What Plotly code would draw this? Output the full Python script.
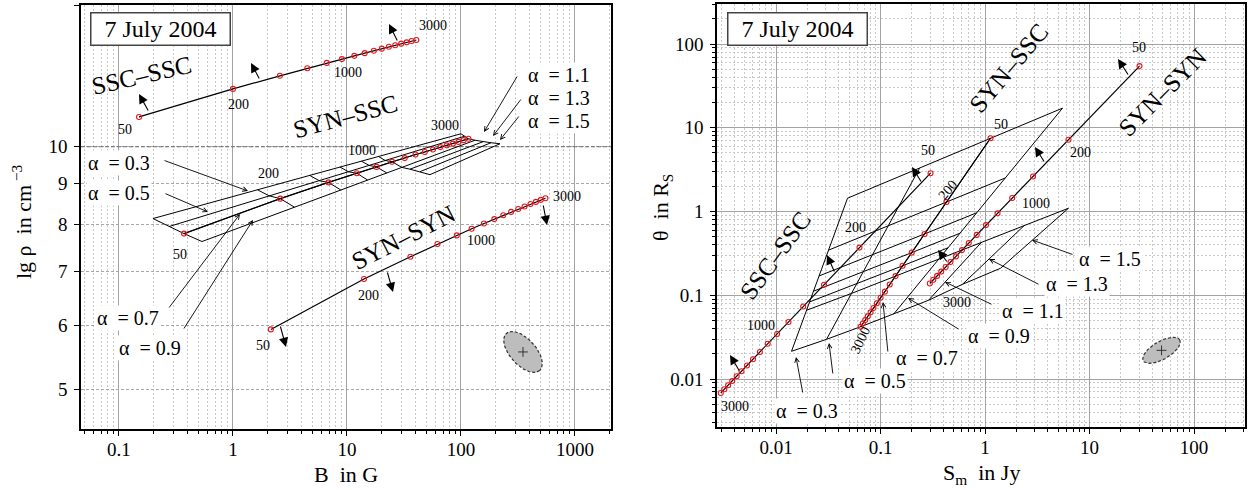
import numpy as np
import plotly.graph_objects as go

W, H = 1249, 490
FONT = "Liberation Serif"

# ---------------- data ----------------
P_VALUES = [50, 200, 400, 600, 800, 1000, 1200, 1400, 1600, 1800, 2000, 2200, 2400, 2600, 2800, 3000]
ALPHAS = [0.3, 0.5, 0.7, 0.9, 1.1, 1.3, 1.5]
GRID_P = [50, 200, 400, 600, 800, 1000, 3000]   # parameter values of the SYN-SSC cross lines

# left panel: B [G] vs lg rho [cm^-3]
L_SSC_B = [0.150, 1.00, 2.58, 4.49, 6.65, 9.03, 11.6, 14.3, 17.2, 20.2, 23.3, 26.5, 29.9, 33.4, 36.9, 40.6]
L_SSC_RHO = [10.89, 11.80, 12.25, 12.52, 12.71, 12.85, 12.97, 13.07, 13.16, 13.24, 13.31, 13.37, 13.43, 13.48, 13.53, 13.57]
L_SYN_B = [2.15, 14.1, 36.0, 62.2, 91.9, 124, 159, 196, 235, 275, 318, 361, 407, 454, 502, 551]
L_SYN_RHO = [5.93, 6.85, 7.30, 7.57, 7.76, 7.91, 8.03, 8.13, 8.22, 8.30, 8.37, 8.43, 8.49, 8.54, 8.59, 8.63]
L_SYNSSC_B = [0.372, 2.60, 6.88, 12.2, 18.2, 24.9, 32.1, 39.9, 48.1, 56.8, 65.9, 75.2, 85.0, 95.2, 105.6, 116.3]
L_SYNSSC_RHO = [7.80, 8.62, 9.03, 9.27, 9.44, 9.58, 9.68, 9.78, 9.85, 9.92, 9.99, 10.04, 10.09, 10.14, 10.19, 10.23]

# left SYN-SSC grid nodes, one row per alpha, columns follow GRID_P
L_GRID_B = [
    [0.1987, 1.637, 4.727, 8.683, 13.40, 18.89, 100.0],
    [0.2746, 2.077, 5.704, 10.31, 15.65, 21.68, 107.3],
    [0.372, 2.60, 6.88, 12.2, 18.2, 24.9, 116.3],
    [0.5348, 3.463, 8.807, 15.19, 22.35, 30.25, 132.7],
    [None, None, None, None, None, 35.69, 156.0],
    [None, None, None, None, None, 43.69, 183.3],
    [None, None, None, None, None, 53.47, 219.9],
]
L_GRID_RHO = [
    [8.143, 8.843, 9.211, 9.435, 9.595, 9.724, 10.378],
    [7.959, 8.690, 9.075, 9.309, 9.480, 9.614, 10.304],
    [7.80, 8.62, 9.03, 9.27, 9.44, 9.58, 10.23],
    [7.625, 8.412, 8.838, 9.090, 9.277, 9.427, 10.187],
    [None, None, None, None, None, 9.378, 10.144],
    [None, None, None, None, None, 9.311, 10.115],
    [None, None, None, None, None, 9.232, 10.086],
]

# right panel: S_m [Jy] vs theta [R_S]
R_SSC_S = [0.301, 0.0629, 0.0288, 0.0182, 0.01316, 0.01023, 0.00832, 0.00700, 0.00602, 0.00527, 0.00467, 0.00420, 0.00381, 0.00348, 0.00320, 0.00296]
R_SSC_T = [2.87, 0.371, 0.1334, 0.0733, 0.0480, 0.0345, 0.0264, 0.0210, 0.01724, 0.01449, 0.01240, 0.01078, 0.00948, 0.00842, 0.00755, 0.00682]
R_SYN_S = [30.1, 6.29, 2.88, 1.82, 1.317, 1.022, 0.833, 0.699, 0.602, 0.527, 0.467, 0.420, 0.381, 0.348, 0.320, 0.296]
R_SYN_T = [54.5, 7.20, 2.62, 1.45, 0.951, 0.688, 0.526, 0.420, 0.346, 0.291, 0.250, 0.2175, 0.1916, 0.1703, 0.1529, 0.1382]
R_SYNSSC_S = [1.129, 0.428, 0.264, 0.199, 0.1624, 0.1392, 0.1224, 0.1101, 0.1001, 0.0922, 0.0856, 0.0803, 0.0754, 0.0714, 0.0677, 0.0645]
R_SYNSSC_T = [7.51, 1.299, 0.540, 0.323, 0.2247, 0.1693, 0.1345, 0.1105, 0.0935, 0.0804, 0.0704, 0.0625, 0.0559, 0.0505, 0.0460, 0.0421]

# right SYN-SSC grid nodes, one row per alpha, columns follow GRID_P
R_GRID_S = [
    [0.04832, 0.03180, 0.02585, 0.02285, 0.02098, 0.01958, 0.01407],
    [0.2361, 0.1180, 0.08348, 0.06800, 0.05893, 0.05266, 0.03043],
    [1.129, 0.428, 0.264, 0.199, 0.1624, 0.1392, 0.0645],
    [5.515, 1.561, 0.8311, 0.5751, 0.4434, 0.3613, 0.1331],
    [None, None, None, None, None, 0.9258, 0.2879],
    [None, None, None, None, None, 2.388, 0.6091],
    [None, None, None, None, None, 6.295, 1.407],
]
R_GRID_T = [
    [1.442, 0.3457, 0.1701, 0.1119, 0.08339, 0.06618, 0.02142],
    [3.291, 0.6675, 0.3013, 0.1893, 0.1361, 0.1051, 0.02980],
    [7.51, 1.299, 0.540, 0.323, 0.2247, 0.1693, 0.0421],
    [17.15, 2.513, 0.9650, 0.5504, 0.3694, 0.2707, 0.05929],
    [None, None, None, None, None, 0.4298, 0.08715],
    [None, None, None, None, None, 0.6861, 0.1353],
    [None, None, None, None, None, 1.095, 0.2102],
]

# uncertainty ellipses
ELL_L = dict(xc=350.0, yc=5.56)
ELL_R = dict(xc=48.9, yc=0.022)

# ---------------- layout geometry ----------------
XL_DOM = [81 / W, 611 / W]
YL_DOM = [61 / H, 485 / H]
XR_DOM = [717 / W, 1245 / W]
YR_DOM = [63 / H, 486 / H]
XL_RANGE = [-1.333, 3.316]
YL_RANGE = [np.log10(4.46), np.log10(15.0)]
XR_RANGE = [-2.565, 2.488]
YR_RANGE = [-2.573, 2.478]


def px_per_dec(dom, rng, size):
    return (dom[1] - dom[0]) * size / (rng[1] - rng[0])


fig = go.Figure()

# emphasised reference level lg rho = 10 (darker dashed line across the left panel)
fig.add_trace(go.Scatter(x=[10 ** XL_RANGE[0], 10 ** XL_RANGE[1]], y=[10, 10], mode="lines",
                         line=dict(color="#6e6e6e", width=1.2, dash="4px,2px"),
                         xaxis="x", yaxis="y", hoverinfo="skip"))

LINE = dict(color="black", width=1.2)
MARK = dict(symbol="circle-open", color="#e8161b", size=5, line=dict(width=1.1, color="#e8161b"))


def grid_paths(gx, gy):
    xs, ys = [], []
    # constant-alpha curves (rows)
    for rx, ry in zip(gx, gy):
        for a, b in zip(rx, ry):
            if a is not None:
                xs.append(a)
                ys.append(b)
        xs.append(None)
        ys.append(None)
    # constant-parameter cross lines (columns)
    for j in range(len(GRID_P)):
        for rx, ry in zip(gx, gy):
            if rx[j] is not None:
                xs.append(rx[j])
                ys.append(ry[j])
        xs.append(None)
        ys.append(None)
    return xs, ys


xs, ys = grid_paths(L_GRID_B, L_GRID_RHO)
fig.add_trace(go.Scatter(x=xs, y=ys, mode="lines", line=dict(color="black", width=1.0),
                         xaxis="x", yaxis="y", hoverinfo="skip"))
xs, ys = grid_paths(R_GRID_S, R_GRID_T)
fig.add_trace(go.Scatter(x=xs, y=ys, mode="lines", line=dict(color="black", width=1.0),
                         xaxis="x2", yaxis="y2", hoverinfo="skip"))

# main curves
for bx, ry in [(L_SSC_B, L_SSC_RHO), (L_SYN_B, L_SYN_RHO), (L_SYNSSC_B, L_SYNSSC_RHO)]:
    fig.add_trace(go.Scatter(x=bx, y=ry, mode="lines+markers", line=LINE, marker=MARK,
                             xaxis="x", yaxis="y", hoverinfo="skip"))
for sx, ty in [(R_SSC_S, R_SSC_T), (R_SYN_S, R_SYN_T), (R_SYNSSC_S, R_SYNSSC_T)]:
    fig.add_trace(go.Scatter(x=sx, y=ty, mode="lines+markers", line=LINE, marker=MARK,
                             xaxis="x2", yaxis="y2", hoverinfo="skip"))


# ellipses
def ellipse(xc, yc, a, b, phi_deg, pdx, pdy, n=90):
    t = np.linspace(0, 2 * np.pi, n)
    ph = np.radians(phi_deg)
    dx = a * np.cos(t) * np.cos(ph) - b * np.sin(t) * np.sin(ph)
    dy = a * np.cos(t) * np.sin(ph) + b * np.sin(t) * np.cos(ph)
    return 10 ** (np.log10(xc) + dx / pdx), 10 ** (np.log10(yc) - dy / pdy)


ex, ey = ellipse(ELL_L["xc"], ELL_L["yc"], 25, 13, 48,
                 px_per_dec(XL_DOM, XL_RANGE, W), px_per_dec(YL_DOM, YL_RANGE, H))
fig.add_trace(go.Scatter(x=ex, y=ey, mode="lines", fill="toself", fillcolor="#bdbdbd",
                         line=dict(color="#333", width=1.2, dash="3px,2px"), xaxis="x", yaxis="y", hoverinfo="skip"))
ex, ey = ellipse(ELL_R["xc"], ELL_R["yc"], 21, 9, -30,
                 px_per_dec(XR_DOM, XR_RANGE, W), px_per_dec(YR_DOM, YR_RANGE, H))
fig.add_trace(go.Scatter(x=ex, y=ey, mode="lines", fill="toself", fillcolor="#bdbdbd",
                         line=dict(color="#333", width=1.2, dash="3px,2px"), xaxis="x2", yaxis="y2", hoverinfo="skip"))
fig.add_trace(go.Scatter(x=[ELL_L["xc"]], y=[ELL_L["yc"]], mode="markers",
                         marker=dict(symbol="cross-thin", size=7, line=dict(width=1, color="#333")),
                         xaxis="x", yaxis="y", hoverinfo="skip"))
fig.add_trace(go.Scatter(x=[ELL_R["xc"]], y=[ELL_R["yc"]], mode="markers",
                         marker=dict(symbol="cross-thin", size=7, line=dict(width=1, color="#333")),
                         xaxis="x2", yaxis="y2", hoverinfo="skip"))

# ---------------- axes ----------------
tickfont = dict(family=FONT, size=19, color="black")


def axis_common():
    return dict(type="log", showline=True, linecolor="black", linewidth=1.6, mirror=True,
                ticks="outside", ticklen=5, tickwidth=1.3, tickcolor="black", tickfont=tickfont,
                zeroline=False, showgrid=True, gridcolor="#a3a3a3", gridwidth=1)


MINOR = dict(dtick="D1", ticks="outside", ticklen=3, tickcolor="black", showgrid=True,
             gridcolor="#c9c9c9", griddash="2px,2px", gridwidth=1)

xl = axis_common()
xl.update(domain=XL_DOM, range=XL_RANGE, anchor="y", tickvals=[0.1, 1, 10, 100, 1000],
          ticktext=["0.1", "1", "10", "100", "1000"], ticklabelstandoff=-3, minor=MINOR)
yl = axis_common()
yl.update(domain=YL_DOM, range=YL_RANGE, anchor="x", tickvals=[5, 6, 7, 8, 9, 10, 15],
          ticktext=["5", "6", "7", "8", "9", "10", "15"], griddash="3px,2px", gridcolor="#a8a8a8",
          ticklabelstandoff=3)
xr = axis_common()
xr.update(domain=XR_DOM, range=XR_RANGE, anchor="y2", tickvals=[0.01, 0.1, 1, 10, 100],
          ticktext=["0.01", "0.1", "1", "10", "100"], ticklabelstandoff=-3, minor=MINOR)
yr = axis_common()
yr.update(domain=YR_DOM, range=YR_RANGE, anchor="x2", tickvals=[0.01, 0.1, 1, 10, 100],
          ticktext=["0.01", "0.1", "1", "10", "100"], ticklabelstandoff=3, minor=MINOR)

fig.update_layout(xaxis=xl, yaxis=yl, xaxis2=xr, yaxis2=yr)

# ---------------- annotations ----------------
ANN = []


def txt(px, py, text, size=14, angle=0, **kw):
    d = dict(x=px / W, y=1 - py / H, xref="paper", yref="paper", text=text, showarrow=False,
             font=dict(family=FONT, size=size, color="black"), textangle=angle,
             xanchor="center", yanchor="middle")
    d.update(kw)
    ANN.append(d)


def arrow(tx, ty, hx, hy, head=2, size=1.0, width=1.0):
    ANN.append(dict(x=hx / W, y=1 - hy / H, xref="paper", yref="paper", ax=tx - hx, ay=ty - hy,
                    axref="pixel", ayref="pixel", text="", showarrow=True, arrowhead=head,
                    arrowsize=size, arrowwidth=width, arrowcolor="black", standoff=0, startstandoff=0))


# date boxes
for cx, cy in [(160, 29.5), (797, 28.5)]:
    txt(cx, cy, "7 July 2004", size=24, bgcolor="white", bordercolor="#444", borderwidth=1.5,
        width=136, height=29)

# left panel text
txt(141, 76, "SSC\u2013SSC", 25, -13)
txt(345, 117, "SYN\u2013SSC", 25, -15)
txt(403, 237, "SYN\u2013SYN", 25, -27)
for (x, y, s) in [(125, 129, "50"), (238, 104, "200"), (348, 72, "1000"), (433, 26, "3000"),
                  (180, 254, "50"), (268, 173, "200"), (362, 150, "1000"), (445, 126, "3000"),
                  (263, 345, "50"), (368, 295, "200"), (481, 240, "1000"), (567, 197, "3000")]:
    txt(x, y, s, 14)

AL = "\u03b1  = "
for (x, y, a) in [(119, 163, "0.3"), (119, 193, "0.5"), (128, 318, "0.7"), (150, 348, "0.9"),
                  (559, 75, "1.1"), (559, 98, "1.3"), (559, 121, "1.5")]:
    txt(x, y, AL + a, 20, bgcolor="white")
for (tx, ty, hx, hy) in [(163, 160, 248, 191), (164, 193, 208, 212), (168, 309, 240, 214),
                         (183, 330, 253, 220), (518, 75, 484, 132), (522, 98, 493, 136),
                         (520, 115, 500, 140)]:
    arrow(tx, ty, hx, hy, head=5, size=1.0, width=0.9)
for (tx, ty, hx, hy) in [(149, 112, 139, 94), (260, 80, 251, 63), (398, 42, 389, 24),
                         (280, 325, 286, 347), (387, 271, 393, 292), (543, 204, 547, 225)]:
    arrow(tx, ty, hx, hy, head=2, size=1.7, width=1.1)

txt(346, 474, "B  in G", 22)
txt(22, 222, "lg \u03c1  in cm<sup> \u22123</sup>", 22, -90)

# right panel text
txt(775, 255, "SSC\u2013SSC", 25, -54)
txt(1008, 68, "SYN\u2013SSC", 25, -50)
txt(1162, 92, "SYN\u2013SYN", 25, -45)
for (x, y, s, ang) in [(928, 150, "50", 0), (855, 227, "200", 0), (761, 325, "1000", 0), (735, 406, "3000", 0),
                       (1001, 125, "50", 0), (947, 190, "200", -50), (860, 340, "3000", -65),
                       (1139, 47, "50", 0), (1080, 153, "200", 0), (1036, 203, "1000", 0), (957, 302, "3000", 0)]:
    txt(x, y, s, 14, ang)
for (x, y, a) in [(807, 411, "0.3"), (875, 381, "0.5"), (927, 358, "0.7"), (999, 336, "0.9"),
                  (1033, 311, "1.1"), (1077, 284, "1.3"), (1110, 259, "1.5")]:
    txt(x, y, AL + a, 20, bgcolor="white")
for (tx, ty, hx, hy) in [(803, 394, 796, 357), (833, 375, 829, 343), (888, 353, 883, 302),
                         (960, 330, 908, 298), (993, 305, 945, 282), (1040, 285, 989, 259),
                         (1074, 255, 1032, 240)]:
    arrow(tx, ty, hx, hy, head=5, size=1.0, width=0.9)
for (tx, ty, hx, hy) in [(740, 372, 730, 355), (835, 273, 827, 255), (922, 183, 912, 167),
                         (1129, 76, 1118, 59), (1045, 163, 1035, 147), (948, 263, 938, 250)]:
    arrow(tx, ty, hx, hy, head=2, size=1.7, width=1.1)

txt(981, 474, "S<sub>m</sub>  in Jy", 22)
txt(662, 208, "\u03b8  in R<sub>S</sub>", 22, -90)

fig.update_layout(width=W, height=H, margin=dict(l=0, r=0, t=0, b=0), paper_bgcolor="white",
                  plot_bgcolor="white", showlegend=False, annotations=ANN,
                  font=dict(family=FONT, color="black"))

fig.write_html("out.html")
